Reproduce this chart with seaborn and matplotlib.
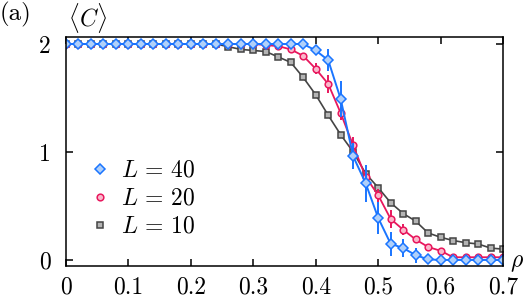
import matplotlib
matplotlib.use('Agg')
import matplotlib.pyplot as plt
from matplotlib.lines import Line2D
import pandas as pd
import seaborn as sns

# densidade rho (mesma grade para as tres curvas)
rho = [0.00, 0.02, 0.04, 0.06, 0.08, 0.10, 0.12, 0.14, 0.16, 0.18,
       0.20, 0.22, 0.24, 0.26, 0.28, 0.30, 0.32, 0.34, 0.36, 0.38,
       0.40, 0.42, 0.44, 0.46, 0.48, 0.50, 0.52, 0.54, 0.56, 0.58,
       0.60, 0.62, 0.64, 0.66, 0.68, 0.70]

c_L40 = [2.0]*20 + [1.94, 1.85, 1.49, 0.96, 0.71, 0.39, 0.15, 0.11, 0.045, 0.005,
                    0.0, 0.0, 0.0, 0.0, 0.0, 0.0]
e_L40 = [0.0]*20 + [0.04, 0.10, 0.17, 0.12, 0.17, 0.15, 0.11, 0.08, 0.07, 0.0,
                    0.0, 0.0, 0.0, 0.0, 0.0, 0.0]

c_L20 = [2.0]*16 + [1.99, 1.98, 1.95, 1.89, 1.77, 1.63, 1.36, 1.06, 0.77, 0.60,
                    0.38, 0.28, 0.19, 0.12, 0.085, 0.025, 0.025, 0.025, 0.025, 0.025]
e_L20 = [0.0]*16 + [0.0, 0.0, 0.0, 0.0, 0.05, 0.08, 0.06, 0.08, 0.05, 0.06,
                    0.08, 0.05, 0.03, 0.0, 0.0, 0.0, 0.0, 0.0, 0.0, 0.0]

c_L10 = [2.0]*13 + [1.975, 1.95, 1.94, 1.93, 1.88, 1.83, 1.69, 1.53, 1.34, 1.16,
                    1.0, 0.80, 0.67, 0.53, 0.43, 0.36, 0.25, 0.21, 0.18, 0.16,
                    0.148, 0.11, 0.10]

plt.rcParams['font.family'] = 'cmr10'
plt.rcParams['mathtext.fontset'] = 'cm'
plt.rcParams['axes.formatter.use_mathtext'] = True

fs = 17

fig = plt.figure(figsize=(5.23, 2.99), dpi=100)
ax = fig.add_axes([0.1262, 0.1104, 0.8356, 0.7659])

series = [
    ('10', c_L10, None, 's', '#444444', '#b4b4b4', 4.8, 1.2),
    ('20', c_L20, e_L20, 'o', '#e8175d', '#fab8cb', 4.8, 1.3),
    ('40', c_L40, e_L40, 'D', '#1a75ff', '#b0d0fa', 5.2, 1.4),
]

handles = {}
for nome, y, err, mk, cor, fill, ms, lw in series:
    df = pd.DataFrame({'rho': rho, 'C': y})
    if err is not None:
        ax.errorbar(rho, y, yerr=err, fmt='none', ecolor=cor, elinewidth=1.4, capsize=0)
    sns.lineplot(data=df, x='rho', y='C', ax=ax, color=cor, lw=lw, marker=mk,
                 markersize=ms, markerfacecolor=fill, markeredgecolor=cor,
                 markeredgewidth=1.1, legend=False)
    handles[nome] = Line2D([], [], ls='none', marker=mk, markersize=ms,
                           markerfacecolor=fill, markeredgecolor=cor, markeredgewidth=1.1)

ax.set_xlim(0, 0.7)
ax.set_ylim(-0.056, 2.065)
ax.set_xticks([0, 0.1, 0.2, 0.3, 0.4, 0.5, 0.6, 0.7])
ax.set_xticklabels(['0', '0.1', '0.2', '0.3', '0.4', '0.5', '0.6', '0.7'])
ax.set_yticks([0, 1, 2])
ax.set_yticklabels(['0', '1', '2'])
ax.tick_params(direction='in', top=True, right=True, length=5, width=1.1,
               labelsize=fs)
ax.tick_params(axis='x', pad=7.5)
ax.tick_params(axis='y', pad=11)
for s in ax.spines.values():
    s.set_linewidth(1.1)
ax.set_xlabel('')
ax.set_ylabel('')

ax.legend([handles['40'], handles['20'], handles['10']],
          [r'$L\,=\,40$', r'$L\,=\,20$', r'$L\,=\,10$'],
          loc='center left', bbox_to_anchor=(0.03, 0.293), frameon=False,
          fontsize=fs, handletextpad=0.39, labelspacing=0.25, handlelength=1.0,
          borderaxespad=0)

fig.text(0.0, 0.951, '(a)', fontsize=18, va='center', ha='left')
fig.text(0.130, 0.94, r'$\langle C\rangle$', fontsize=fs, va='center', ha='left')
ax.text(1.016, 0.013, r'$\rho$', transform=ax.transAxes, fontsize=fs, va='center', ha='left')

fig.savefig('out.png', dpi=100)
